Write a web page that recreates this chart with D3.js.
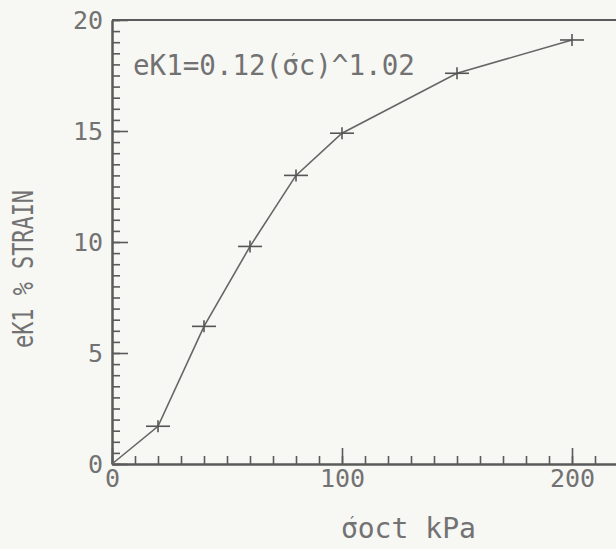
<!DOCTYPE html>
<html>
<head>
<meta charset="utf-8">
<script src="https://cdnjs.cloudflare.com/ajax/libs/d3/7.8.5/d3.min.js"></script>
<style>
  html, body { margin: 0; padding: 0; background: #f7f7f4; }
  svg { display: block; }
</style>
</head>
<body>
<svg id="chart" width="616" height="549"></svg>
<script>
// datos
const stressKPa = [0, 20, 40, 60, 80, 100, 150, 200];
const strainPct = [0, 1.7, 6.2, 9.8, 13.0, 14.9, 17.6, 19.1];
const xTickLabels = [0, 100, 200];
const yTickLabels = [0, 5, 10, 15, 20];
// partes de los textos: antes del sigma, sigma, prima, despues
const equationParts = ["eK1=0.12(", "σ", "′", "c)^1.02"];
const xTitleParts = ["", "σ", "′", "oct kPa"];
const yTitle = "eK1 % STRAIN";

const svg = d3.select("#chart");
const ink = "#5a5a5a";
const textInk = "#727272";
const fuente = "'DejaVu Sans Mono', monospace";

const x = d3.scaleLinear().domain([0, 220]).range([112, 618]);
const y = d3.scaleLinear().domain([0, 20]).range([464, 20]);

const puntos = stressKPa.map((s, i) => ({ s: s, e: strainPct[i] }));

// linea superior del marco
svg.append("line")
    .attr("x1", x(0)).attr("x2", 616)
    .attr("y1", y(20)).attr("y2", y(20))
    .attr("stroke", ink).attr("stroke-width", 2);

// Eje X: menores cada 10, mayores cada 100
const gx = svg.append("g").attr("transform", `translate(0,${y(0)})`);
gx.append("g")
    .call(d3.axisBottom(x).tickValues(d3.range(0, 221, 10)).tickSize(-8).tickSizeOuter(0).tickFormat(""));
gx.append("g")
    .call(d3.axisBottom(x).tickValues(xTickLabels).tickSize(-16).tickSizeOuter(0).tickPadding(5).tickFormat(d3.format("d")));

// Eje Y: menores cada 0.5, mayores cada 5
const gy = svg.append("g").attr("transform", `translate(${x(0)},0)`);
gy.append("g")
    .call(d3.axisLeft(y).tickValues(d3.range(0, 41).map(i => i * 0.5)).tickSize(-8).tickSizeOuter(0).tickFormat(""));
gy.append("g")
    .call(d3.axisLeft(y).tickValues(yTickLabels).tickSize(-16).tickSizeOuter(0).tickPadding(9).tickFormat(d3.format("d")));

svg.selectAll(".domain").attr("stroke", ink).attr("stroke-width", 2);
svg.selectAll(".tick line").attr("stroke", ink).attr("stroke-width", 1.6);
svg.selectAll(".tick text")
    .attr("fill", textInk)
    .style("font-family", fuente)
    .style("font-size", "25px");

// curva
const linea = d3.line().x(d => x(d.s)).y(d => y(d.e));
svg.append("path")
    .datum(puntos)
    .attr("d", linea)
    .attr("fill", "none")
    .attr("stroke", "#666")
    .attr("stroke-width", 1.6);

// marcadores +
const marcas = svg.append("g").attr("stroke", "#555").attr("stroke-width", 1.6);
puntos.filter(d => d.s > 0).forEach(d => {
    marcas.append("line")
        .attr("x1", x(d.s) - 12).attr("x2", x(d.s) + 12)
        .attr("y1", y(d.e)).attr("y2", y(d.e));
    marcas.append("line")
        .attr("x1", x(d.s)).attr("x2", x(d.s))
        .attr("y1", y(d.e) - 6).attr("y2", y(d.e) + 6);
});

// texto con sigma prima (la prima va arriba, sobre el sigma)
function textoSigma(parts, px, py, ancho) {
    const t = svg.append("text")
        .attr("x", px).attr("y", py)
        .attr("fill", textInk)
        .style("font-family", fuente).style("font-size", "28px");
    t.append("tspan").text(parts[0]);
    t.append("tspan").text(parts[1]);
    t.append("tspan").attr("dx", -11).attr("dy", -9).style("font-size", "18px").text(parts[2]);
    t.append("tspan").attr("dy", 9).text(parts[3]);
    // ajustar al ancho del original
    const w = t.node().getBBox().width;
    t.attr("transform", `translate(${px},${py}) scale(${ancho / w},1) translate(${-px},${-py})`);
    return t;
}

textoSigma(equationParts, 133, 75, 282);
textoSigma(xTitleParts, 341, 538, 135);

svg.append("text")
    .attr("transform", "translate(33,269) rotate(-90)")
    .attr("text-anchor", "middle")
    .attr("textLength", 158).attr("lengthAdjust", "spacingAndGlyphs")
    .attr("fill", textInk)
    .style("font-family", fuente).style("font-size", "28px")
    .text(yTitle);
</script>
</body>
</html>
